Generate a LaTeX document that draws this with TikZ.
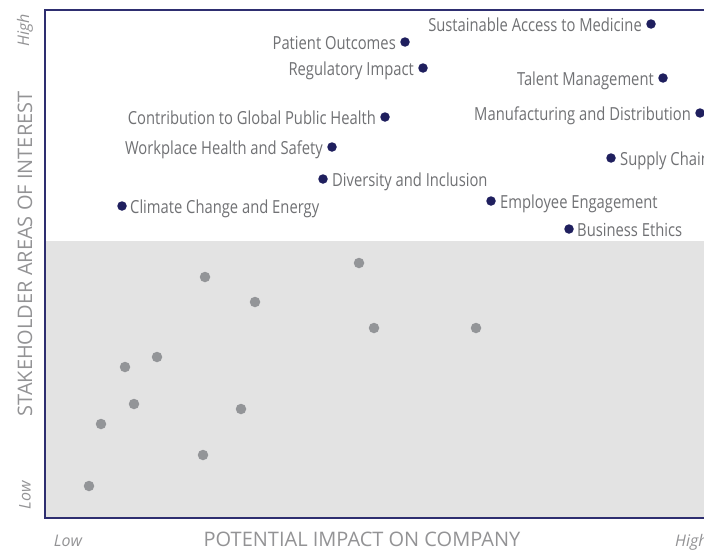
\documentclass[tikz,border=0pt]{standalone}
\usepackage{fontspec}
\setmainfont{Open Sans}
\newfontfamily\condfont[FakeStretch=0.82]{Open Sans}
\definecolor{navy}{HTML}{1F1F5E}
\definecolor{frame}{HTML}{2E2E70}
\definecolor{dotgray}{HTML}{939598}
\definecolor{panel}{HTML}{E3E3E3}
\definecolor{lbltext}{HTML}{707174}
\definecolor{axistext}{HTML}{939395}
\tikzset{
  hidot/.style={circle, fill=navy, inner sep=0pt, minimum size=9.5pt},
  lodot/.style={circle, fill=dotgray, inner sep=0pt, minimum size=10.5pt},
  lbl/.style={inner sep=0pt, text=lbltext, font=\condfont\fontsize{18}{20}\selectfont},
  lblL/.style={lbl, anchor=base east},
  lblR/.style={lbl, anchor=base west},
  axis/.style={inner sep=0pt, text=axistext, font=\fontsize{20}{22}\selectfont},
  tick/.style={inner sep=0pt, text=axistext, font=\itshape\fontsize{16}{18}\selectfont},
}
\begin{document}
\begin{tikzpicture}[x=1pt,y=-1pt]
\useasboundingbox (0,0) rectangle (704,549);
\fill[white] (0,0) rectangle (704,549);
\fill[panel] (45,241) rectangle (704,518);
\draw[frame, line width=1.4pt] (704,10) -- (45,10) -- (45,518) -- (704,518);

% high-interest topics
\node[hidot] (sam) at (651,24) {};
\node[lblL] at ([shift={(-9pt,-7.5pt)}]sam.center) {Sustainable Access to Medicine};
\node[hidot] (po) at (405,42) {};
\node[lblL] at ([shift={(-9pt,-7.5pt)}]po.center) {Patient Outcomes};
\node[hidot] (ri) at (423,68) {};
\node[lblL] at ([shift={(-9pt,-7.5pt)}]ri.center) {Regulatory Impact};
\node[hidot] (tm) at (663,78) {};
\node[lblL] at ([shift={(-9pt,-7.5pt)}]tm.center) {Talent Management};
\node[hidot] (cg) at (385,117) {};
\node[lblL] at ([shift={(-9pt,-7.5pt)}]cg.center) {Contribution to Global Public Health};
\node[hidot] (md) at (700,113) {};
\node[lblL] at ([shift={(-9pt,-7.5pt)}]md.center) {Manufacturing and Distribution};
\node[hidot] (wh) at (332,147) {};
\node[lblL] at ([shift={(-9pt,-7.5pt)}]wh.center) {Workplace Health and Safety};
\node[hidot] (sc) at (611,158) {};
\node[lblR] at ([shift={(9pt,-7.5pt)}]sc.center) {Supply Chain};
\node[hidot] (di) at (323,179) {};
\node[lblR] at ([shift={(9pt,-7.5pt)}]di.center) {Diversity and Inclusion};
\node[hidot] (cc) at (122,206) {};
\node[lblR] at ([shift={(8pt,-7.5pt)}]cc.center) {Climate Change and Energy};
\node[hidot] (ee) at (491,201) {};
\node[lblR] at ([shift={(9pt,-7.5pt)}]ee.center) {Employee Engagement};
\node[hidot] (be) at (569,229) {};
\node[lblR] at ([shift={(8pt,-7.5pt)}]be.center) {Business Ethics};

% low-interest topics
\node[lodot] (g1) at (205,277) {};
\node[lodot] (g2) at (255,302) {};
\node[lodot] (g3) at (157,357) {};
\node[lodot] (g4) at (125,367) {};
\node[lodot] (g5) at (134,404) {};
\node[lodot] (g6) at (101,424) {};
\node[lodot] (g7) at (241,409) {};
\node[lodot] (g8) at (203,455) {};
\node[lodot] (g9) at (89,486) {};
\node[lodot] (g10) at (359,263) {};
\node[lodot] (g11) at (374,328) {};
\node[lodot] (g12) at (476,328) {};

% axes
\node[axis, rotate=90] (ytitle) at (25,254) {STAKEHOLDER AREAS OF INTEREST};
\node[tick, rotate=90] (yhigh) at (25,30) {High};
\node[tick, rotate=90] (ylow) at (25,495) {Low};
\node[axis, anchor=base, text depth=0pt] (xtitle) at (362,546.5) {POTENTIAL IMPACT ON COMPANY};
\node[tick, anchor=base] (xlow) at (68,546) {Low};
\node[tick, anchor=base west] (xhigh) at (675,546) {High};
\end{tikzpicture}
\end{document}
